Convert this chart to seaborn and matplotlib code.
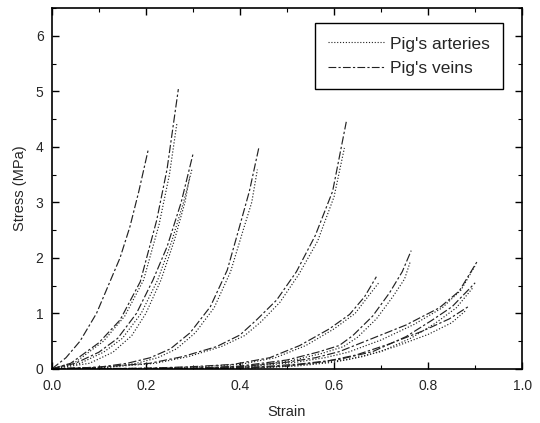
import pandas as pd
import matplotlib
matplotlib.use("Agg")
import matplotlib.pyplot as plt
from matplotlib.ticker import MultipleLocator
from matplotlib.lines import Line2D
import seaborn as sns

# Curves: strain, stress (MPa)
# veins (dash-dot) and arteries (dotted)
v1_strain = [0, 0.03, 0.06, 0.095, 0.125, 0.145, 0.166, 0.185, 0.205]
v1_stress = [0, 0.2, 0.5, 1.0, 1.6, 2.0, 2.56, 3.2, 3.95]

v2_strain = [0, 0.04, 0.10, 0.145, 0.188, 0.223, 0.245, 0.269]
v2_stress = [0, 0.1, 0.47, 0.88, 1.57, 2.68, 3.6, 5.04]
a2_strain = [0, 0.05, 0.11, 0.155, 0.195, 0.228, 0.25, 0.266]
a2_stress = [0, 0.12, 0.5, 0.95, 1.6, 2.6, 3.5, 4.43]

v3_strain = [0, 0.05, 0.10, 0.14, 0.18, 0.215, 0.245, 0.275, 0.301]
v3_stress = [0, 0.1, 0.3, 0.55, 1.0, 1.6, 2.2, 3.0, 3.9]
a3_strain = [0, 0.06, 0.11, 0.15, 0.19, 0.225, 0.255, 0.28, 0.298]
a3_stress = [0, 0.1, 0.3, 0.55, 1.0, 1.6, 2.3, 3.0, 3.6]
a3b_strain = [0, 0.08, 0.13, 0.17, 0.20, 0.232, 0.26, 0.283, 0.293]
a3b_stress = [0, 0.1, 0.3, 0.6, 1.0, 1.6, 2.3, 3.0, 3.45]

v4_strain = [0, 0.10, 0.16, 0.209, 0.252, 0.294, 0.337, 0.373, 0.397, 0.42, 0.44]
v4_stress = [0, 0.03, 0.1, 0.2, 0.36, 0.65, 1.12, 1.78, 2.5, 3.2, 3.98]
a4_strain = [0, 0.12, 0.18, 0.225, 0.265, 0.305, 0.345, 0.38, 0.405, 0.425, 0.437]
a4_stress = [0, 0.03, 0.1, 0.2, 0.36, 0.65, 1.1, 1.75, 2.45, 3.0, 3.59]

v5_strain = [0, 0.10, 0.208, 0.278, 0.35, 0.40, 0.435, 0.478, 0.52, 0.56, 0.597, 0.626]
v5_stress = [0, 0.03, 0.1, 0.22, 0.4, 0.61, 0.88, 1.24, 1.75, 2.4, 3.2, 4.45]
a5_strain = [0, 0.12, 0.22, 0.29, 0.36, 0.41, 0.445, 0.485, 0.525, 0.565, 0.60, 0.622]
a5_stress = [0, 0.03, 0.1, 0.22, 0.4, 0.6, 0.85, 1.2, 1.7, 2.3, 3.1, 3.98]

v6_strain = [0, 0.20, 0.30, 0.385, 0.463, 0.527, 0.59, 0.633, 0.665, 0.69]
v6_stress = [0, 0.01, 0.04, 0.08, 0.2, 0.42, 0.72, 0.98, 1.3, 1.66]
a6_strain = [0, 0.22, 0.32, 0.40, 0.475, 0.54, 0.60, 0.645, 0.672, 0.695]
a6_stress = [0, 0.01, 0.04, 0.08, 0.2, 0.42, 0.72, 1.0, 1.3, 1.55]

v7_strain = [0, 0.30, 0.40, 0.50, 0.565, 0.611, 0.64, 0.682, 0.718, 0.745, 0.764]
v7_stress = [0, 0.01, 0.05, 0.16, 0.3, 0.42, 0.6, 0.95, 1.37, 1.75, 2.13]
a7_strain = [0, 0.32, 0.42, 0.51, 0.575, 0.62, 0.65, 0.69, 0.725, 0.75, 0.762]
a7_stress = [0, 0.01, 0.05, 0.15, 0.28, 0.4, 0.57, 0.9, 1.3, 1.62, 1.93]

v8_strain = [0, 0.30, 0.40, 0.50, 0.56, 0.611, 0.682, 0.753, 0.824, 0.866, 0.904]
v8_stress = [0, 0.01, 0.04, 0.12, 0.2, 0.31, 0.55, 0.79, 1.1, 1.4, 1.93]
a8_strain = [0, 0.32, 0.42, 0.52, 0.58, 0.63, 0.70, 0.77, 0.83, 0.87, 0.90]
a8_stress = [0, 0.01, 0.04, 0.12, 0.2, 0.3, 0.52, 0.8, 1.1, 1.42, 1.86]

v9_strain = [0, 0.35, 0.45, 0.53, 0.611, 0.682, 0.753, 0.809, 0.851, 0.90]
v9_stress = [0, 0.01, 0.04, 0.09, 0.17, 0.31, 0.58, 0.88, 1.12, 1.55]
a9_strain = [0, 0.37, 0.47, 0.55, 0.63, 0.70, 0.765, 0.815, 0.86, 0.896]
a9_stress = [0, 0.01, 0.04, 0.09, 0.17, 0.31, 0.56, 0.82, 1.1, 1.47]

v10_strain = [0, 0.40, 0.50, 0.58, 0.647, 0.718, 0.788, 0.845, 0.887]
v10_stress = [0, 0.01, 0.05, 0.13, 0.25, 0.45, 0.68, 0.9, 1.13]
a10_strain = [0, 0.42, 0.52, 0.60, 0.66, 0.73, 0.80, 0.85, 0.88]
a10_stress = [0, 0.01, 0.05, 0.12, 0.22, 0.4, 0.62, 0.83, 1.05]

curves = [
    ("v1", "veins", v1_strain, v1_stress),
    ("v2", "veins", v2_strain, v2_stress),
    ("a2", "arteries", a2_strain, a2_stress),
    ("v3", "veins", v3_strain, v3_stress),
    ("a3", "arteries", a3_strain, a3_stress),
    ("a3b", "arteries", a3b_strain, a3b_stress),
    ("v4", "veins", v4_strain, v4_stress),
    ("a4", "arteries", a4_strain, a4_stress),
    ("v5", "veins", v5_strain, v5_stress),
    ("a5", "arteries", a5_strain, a5_stress),
    ("v6", "veins", v6_strain, v6_stress),
    ("a6", "arteries", a6_strain, a6_stress),
    ("v7", "veins", v7_strain, v7_stress),
    ("a7", "arteries", a7_strain, a7_stress),
    ("v8", "veins", v8_strain, v8_stress),
    ("a8", "arteries", a8_strain, a8_stress),
    ("v9", "veins", v9_strain, v9_stress),
    ("a9", "arteries", a9_strain, a9_stress),
    ("v10", "veins", v10_strain, v10_stress),
    ("a10", "arteries", a10_strain, a10_stress),
]

rows = []
for name, kind, xs, ys in curves:
    for i, (x, y) in enumerate(zip(xs, ys)):
        rows.append({"curve": name, "tissue": kind, "order": i, "Strain": x, "Stress": y})
df = pd.DataFrame(rows)

sns.set_style("ticks")
plt.rcParams["font.family"] = ["Liberation Sans", "DejaVu Sans"]

dash_styles = {"arteries": (1, 1.6), "veins": (7, 2, 2, 2)}

fig = plt.figure(figsize=(5.4, 4.23), dpi=100)
ax = fig.add_axes([0.096, 0.128, 0.871, 0.853])

sns.lineplot(data=df, x="Strain", y="Stress", units="curve", estimator=None,
             style="tissue", dashes=dash_styles, color="#222222", linewidth=0.85,
             sort=False, legend=False, ax=ax)

ax.set_xlim(0, 1.0)
ax.set_ylim(0, 6.5)
ax.xaxis.set_major_locator(MultipleLocator(0.2))
ax.xaxis.set_minor_locator(MultipleLocator(0.1))
ax.yaxis.set_major_locator(MultipleLocator(1))
ax.yaxis.set_minor_locator(MultipleLocator(0.5))
ax.set_xticklabels([f"{v:.1f}" for v in ax.get_xticks()])
ax.tick_params(which="both", direction="in", top=True, right=True, labelsize=10, color="black")
ax.tick_params(which="major", length=5, width=1)
ax.tick_params(which="minor", length=3, width=0.8)
ax.tick_params(axis="x", which="major", pad=7)
ax.tick_params(axis="y", which="major", pad=6)
for sp in ax.spines.values():
    sp.set_linewidth(1.2)
    sp.set_color("black")

ax.set_xlabel("Strain", fontsize=10.5, labelpad=9)
ax.set_ylabel("Stress (MPa)", fontsize=10.5, labelpad=6)

handles = [
    Line2D([], [], color="#222222", linewidth=0.8, dashes=dash_styles["arteries"]),
    Line2D([], [], color="#222222", linewidth=0.8, dashes=dash_styles["veins"]),
]
leg = ax.legend(handles, ["Pig's arteries", "Pig's veins"], loc="upper right",
                bbox_to_anchor=(0.97, 0.972), fontsize=12.5, frameon=True, fancybox=False,
                edgecolor="black", framealpha=1, handlelength=3.2, borderpad=0.75,
                labelspacing=0.55, handletextpad=0.35, borderaxespad=0.3)
leg.get_frame().set_linewidth(1.0)

fig.savefig("out.png", dpi=100)
